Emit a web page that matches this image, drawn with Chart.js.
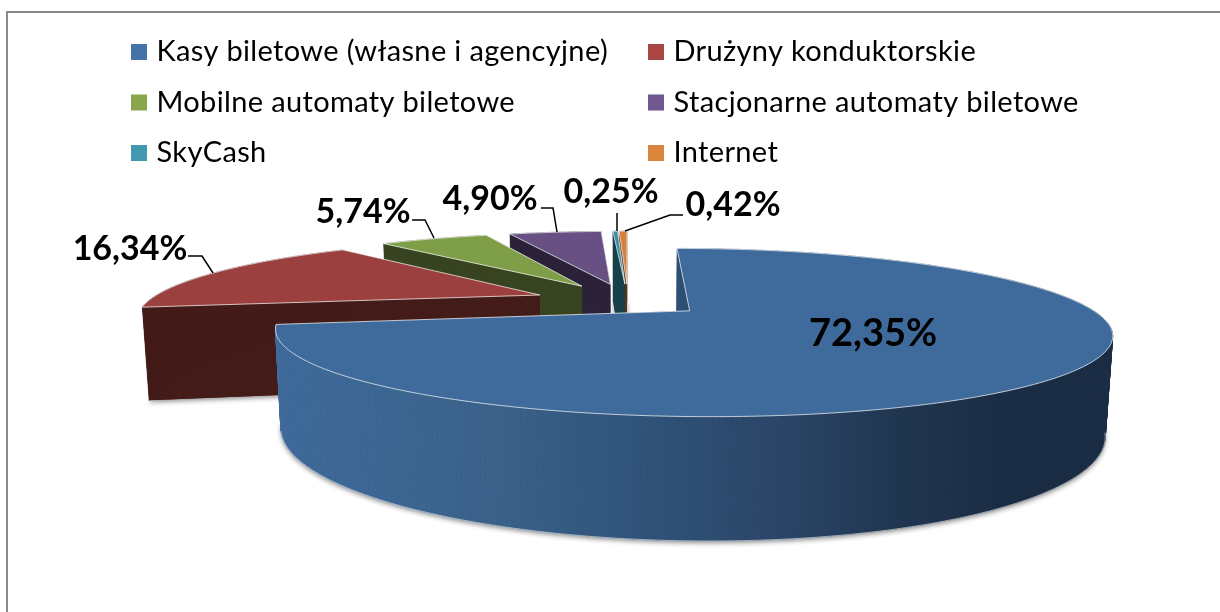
<!DOCTYPE html>
<html lang="pl">
<head>
<meta charset="utf-8">
<title>Kanały sprzedaży biletów</title>
<script src="https://cdn.jsdelivr.net/npm/chart.js@4"></script>
<style>
    html, body { margin: 0; padding: 0; background: #fff; }
    canvas { display: block; }
</style>
</head>
<body>
<canvas id="chart" width="1220" height="612"></canvas>
<script>
// --- Data ---
const categories = [
    'Kasy biletowe (własne i agencyjne)',
    'Drużyny konduktorskie',
    'Mobilne automaty biletowe',
    'Stacjonarne automaty biletowe',
    'SkyCash',
    'Internet'
];
const shares = [72.35, 16.34, 5.74, 4.90, 0.25, 0.42];

// --- Styles ---
const swatchColors = ['#4572a7', '#aa4643', '#89a54e', '#71588f', '#4198af', '#db843d'];
const topColors = ['#3f6b9c', '#9b403e', '#7e9e48', '#685084', '#3c8da4', '#d8803a'];
const wallColors = ['#1a2c44', '#431b18', '#384320', '#2b2138', '#184049', '#5a3415'];
const explode = [0.2, 0.245, 0.245, 0.245, 0.245, 0.245];

// perspective of the tilted pie
const RADIUS = 391, TILT = 0.188, PERSP = 0.25, DEPTH = 92.6, SHRINK = 0.014;

const LEGEND_FONT = '29px Lato', LEGEND_SPACING = '0.35px';
const legendColumns = [131, 648];
const legendRows = [44, 94.5, 145];

// where the value labels sit, and their leader lines
const labelBoxes = [
    { x: 873, y: 346, font: 'bold 38px Lato', line: null },
    { x: 130, y: 260, font: 'bold 34px Lato', line: [[188, 256], [202, 256], [213, 273]] },
    { x: 363, y: 223, font: 'bold 34px Lato', line: [[412, 220], [425, 220], [434, 238]] },
    { x: 490, y: 210, font: 'bold 34px Lato', line: [[541, 208], [553, 208], [557, 232]] },
    { x: 611, y: 203, font: 'bold 34px Lato', line: [[617, 213], [617, 231]] },
    { x: 733, y: 216, font: 'bold 34px Lato', line: [[625, 231], [670, 215], [683, 215]] }
];

function project(el, u, v, z) {
    const w = 1 + PERSP * v + SHRINK * z;
    return {
        x: el.x + RADIUS * u / w,
        y: el.y + (DEPTH * z - RADIUS * TILT * v) / w
    };
}

function drawPoly(ctx, pts) {
    ctx.beginPath();
    pts.forEach((p, i) => i ? ctx.lineTo(p.x, p.y) : ctx.moveTo(p.x, p.y));
    ctx.closePath();
}

function wallFill(ctx, i) {
    if (i !== 0) return wallColors[i];
    const g = ctx.createLinearGradient(280, 0, 1107, 0);
    g.addColorStop(0, '#3f6b9c');
    g.addColorStop(0.27, '#3a6189');
    g.addColorStop(0.45, '#2f5278');
    g.addColorStop(0.62, '#2a4466');
    g.addColorStop(0.75, '#203650');
    g.addColorStop(0.87, '#1b2d44');
    g.addColorStop(1, '#1a2c44');
    return g;
}

function drawSlice(ctx, el, i) {
    const mid = (el.startAngle + el.endAngle) / 2;
    const du = Math.cos(mid) * explode[i];
    const dv = -Math.sin(mid) * explode[i];
    const steps = Math.max(2, Math.ceil((el.endAngle - el.startAngle) * 90));
    const angleAt = s => el.startAngle + (el.endAngle - el.startAngle) * s / steps;

    const rim = z => {
        const pts = [];
        for (let s = 0; s <= steps; s++) {
            const a = angleAt(s);
            pts.push(project(el, du + Math.cos(a), dv - Math.sin(a), z));
        }
        return pts;
    };
    const top = rim(0), bottom = rim(1);
    const apexTop = project(el, du, dv, 0), apexBottom = project(el, du, dv, 1);

    // soft shadow under the slice
    ctx.save();
    ctx.fillStyle = wallColors[i];
    ctx.shadowColor = 'rgba(0,0,0,0.45)';
    ctx.shadowBlur = 5;
    ctx.shadowOffsetY = 2;
    drawPoly(ctx, [apexBottom].concat(bottom));
    ctx.fill();
    ctx.restore();

    // cut faces
    ctx.fillStyle = wallColors[i];
    drawPoly(ctx, [apexTop, top[0], bottom[0], apexBottom]);
    ctx.fill();
    drawPoly(ctx, [apexTop, top[steps], bottom[steps], apexBottom]);
    ctx.fill();

    // outer face, piece by piece because the strip folds over itself
    const fill = wallFill(ctx, i);
    ctx.fillStyle = fill;
    ctx.strokeStyle = fill;
    ctx.lineWidth = 0.6;
    for (let s = 0; s < steps; s++) {
        drawPoly(ctx, [top[s], top[s + 1], bottom[s + 1], bottom[s]]);
        ctx.fill();
        ctx.stroke();
    }

    // light line along the lower rim, front part only
    ctx.strokeStyle = 'rgba(255,255,255,0.55)';
    ctx.lineWidth = 1;
    for (let s = 0; s < steps; s++) {
        if (Math.sin(angleAt(s)) < 0.25) continue;
        ctx.beginPath();
        ctx.moveTo(bottom[s].x, bottom[s].y);
        ctx.lineTo(bottom[s + 1].x, bottom[s + 1].y);
        ctx.stroke();
    }

    // top face with its light edge
    ctx.fillStyle = topColors[i];
    drawPoly(ctx, [apexTop].concat(top));
    ctx.fill();
    ctx.strokeStyle = 'rgba(255,255,255,0.7)';
    ctx.stroke();
}

const pie3d = {
    id: 'pie3d',
    beforeDraw(chart) {
        const ctx = chart.ctx;
        ctx.save();
        ctx.fillStyle = '#fff';
        ctx.fillRect(0, 0, chart.width, chart.height);
        ctx.strokeStyle = '#8a8a8a';
        ctx.lineWidth = 2;
        ctx.strokeRect(7, 12, chart.width + 20, chart.height + 20);
        ctx.restore();
    },
    beforeDatasetDraw(chart, args) {
        const ctx = chart.ctx;
        ctx.save();
        // back slices first, the big one ends up on top
        for (let i = args.meta.data.length - 1; i >= 0; i--) {
            drawSlice(ctx, args.meta.data[i], i);
        }
        ctx.restore();
        return false;
    },
    afterDraw(chart) {
        const ctx = chart.ctx;
        ctx.save();

        // legend, two columns
        ctx.font = LEGEND_FONT;
        ctx.letterSpacing = LEGEND_SPACING;
        ctx.textBaseline = 'alphabetic';
        ctx.textAlign = 'left';
        chart.data.labels.forEach((label, i) => {
            const x = legendColumns[i % 2], y = legendRows[Math.floor(i / 2)];
            ctx.fillStyle = swatchColors[i];
            ctx.fillRect(x, y, 16, 16);
            ctx.fillStyle = '#000';
            ctx.fillText(label, x + 25.5, y + 17);
        });
        ctx.letterSpacing = '0px';

        // value labels and leader lines
        ctx.textAlign = 'center';
        chart.data.datasets[0].data.forEach((value, i) => {
            const box = labelBoxes[i];
            ctx.font = box.font;
            ctx.fillStyle = '#000';
            ctx.fillText(value.toFixed(2).replace('.', ',') + '%', box.x, box.y);
            if (box.line) {
                ctx.beginPath();
                box.line.forEach((p, k) => k ? ctx.lineTo(p[0], p[1]) : ctx.moveTo(p[0], p[1]));
                ctx.strokeStyle = '#000';
                ctx.lineWidth = 1.5;
                ctx.stroke();
            }
        });
        ctx.restore();
    }
};

new Chart(document.getElementById('chart'), {
    type: 'pie',
    data: {
        labels: categories,
        datasets: [{
            data: shares,
            backgroundColor: topColors
        }]
    },
    options: {
        responsive: false,
        animation: false,
        radius: RADIUS,
        layout: { padding: { left: 36, bottom: 10 } },
        plugins: { legend: { display: false }, tooltip: { enabled: false } }
    },
    plugins: [pie3d]
});
</script>
</body>
</html>
